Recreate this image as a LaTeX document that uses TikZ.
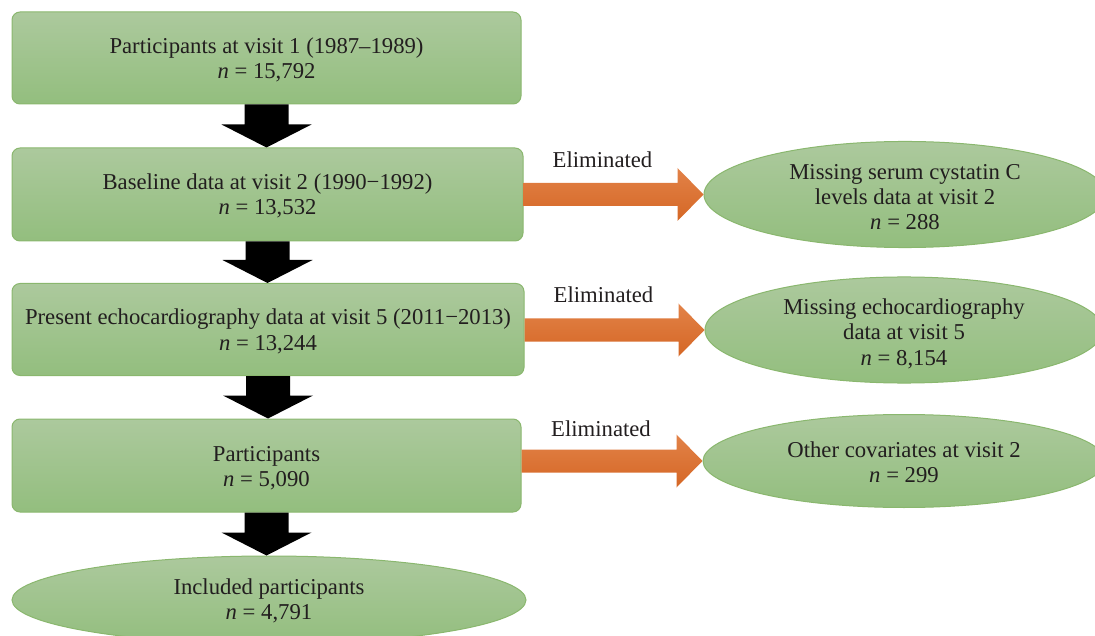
\documentclass[tikz,border=0pt]{standalone}
\usepackage{fontspec}
\setmainfont{Liberation Serif}
\usetikzlibrary{shapes.geometric,calc}
\definecolor{gtop}{RGB}{172,201,157}
\definecolor{gbot}{RGB}{147,190,126}
\definecolor{gborder}{RGB}{138,183,110}
\definecolor{otop}{RGB}{226,130,72}
\definecolor{obot}{RGB}{213,103,37}
\definecolor{txt}{RGB}{34,30,31}
\newcommand\lowtext[2]{\raisebox{-#1}[\height][\depth]{\begin{tabular}{@{}c@{}}#2\end{tabular}}}
\newcommand\blockdown[2]{%
  \fill[black] let \p1=(#1.south), \p2=(#2.north) in
    (\x1-22pt,\y1) -- (\x1+22pt,\y1) -- (\x1+22pt,\y2+23pt) -- (\x1+45pt,\y2+23pt)
    -- (\x1,\y2) -- (\x1-45pt,\y2+23pt) -- (\x1-22pt,\y2+23pt) -- cycle;}
\newcommand\blockright[2]{%
  \path[top color=otop,bottom color=obot] let \p1=(#1.east), \p2=(#2.west) in
    (\x1,\y2+11.5pt) -- (\x2-26pt,\y2+11.5pt) -- (\x2-26pt,\y2+26.5pt) -- (\x2,\y2)
    -- (\x2-26pt,\y2-26.5pt) -- (\x2-26pt,\y2-11.5pt) -- (\x1,\y2-11.5pt) -- cycle;}
\begin{document}
\begin{tikzpicture}[x=1pt,y=-1pt,
  every node/.style={text=txt,font=\fontsize{22.7}{25}\selectfont,inner sep=0pt},
  box/.style={draw=gborder,line width=1pt,rounded corners=8pt,top color=gtop,bottom color=gbot},
  oval/.style={ellipse,draw=gborder,line width=1pt,top color=gtop,bottom color=gbot},
  lab/.style={anchor=base}]
\clip (0,0) rectangle (1095,636);
\node[box,minimum width=509pt,minimum height=92pt] (b1) at (266.5,58) {\lowtext{3pt}{Participants at visit 1 (1987–1989)\\\textit{n} = 15,792}};
\node[box,minimum width=511pt,minimum height=93pt] (b2) at (267.5,194.5) {\lowtext{3pt}{Baseline data at visit 2 (1990−1992)\\\textit{n} = 13,532}};
\node[box,minimum width=512pt,minimum height=92pt] (b3) at (268,329.5) {\lowtext{3pt}{Present echocardiography data at visit 5 (2011−2013)\\\textit{n} = 13,244}};
\node[box,minimum width=509pt,minimum height=93pt] (b4) at (266.5,465.5) {\lowtext{3pt}{Participants\\\textit{n} = 5,090}};
\node[oval,minimum width=514pt,minimum height=88pt] (e0) at (269,600) {\lowtext{2pt}{Included participants\\\textit{n} = 4,791}};
\node[oval,minimum width=402pt,minimum height=92pt] (e1) at (905,194.5) {\lowtext{5pt}{Missing serum cystatin C\\levels data at visit 2\\\textit{n} = 288}};
\node[oval,minimum width=398pt,minimum height=94pt] (e2) at (904,330) {\lowtext{5pt}{Missing echocardiography\\data at visit 5\\\textit{n} = 8,154}};
\node[oval,minimum width=402pt,minimum height=93pt] (e3) at (904,461) {\lowtext{4pt}{Other covariates at visit 2\\\textit{n} = 299}};
\blockdown{b1}{b2}
\blockdown{b2}{b3}
\blockdown{b3}{b4}
\blockdown{b4}{e0}
\blockright{b2}{e1}
\blockright{b3}{e2}
\blockright{b4}{e3}
\node[lab] (l1) at ($(b2.east)!0.5!(e1.west)+(-11,-27)$) {Eliminated};
\node[lab] (l2) at ($(b3.east)!0.5!(e2.west)+(-11,-27)$) {Eliminated};
\node[lab] (l3) at ($(b4.east)!0.5!(e3.west)+(-11,-27)$) {Eliminated};
\end{tikzpicture}
\end{document}
